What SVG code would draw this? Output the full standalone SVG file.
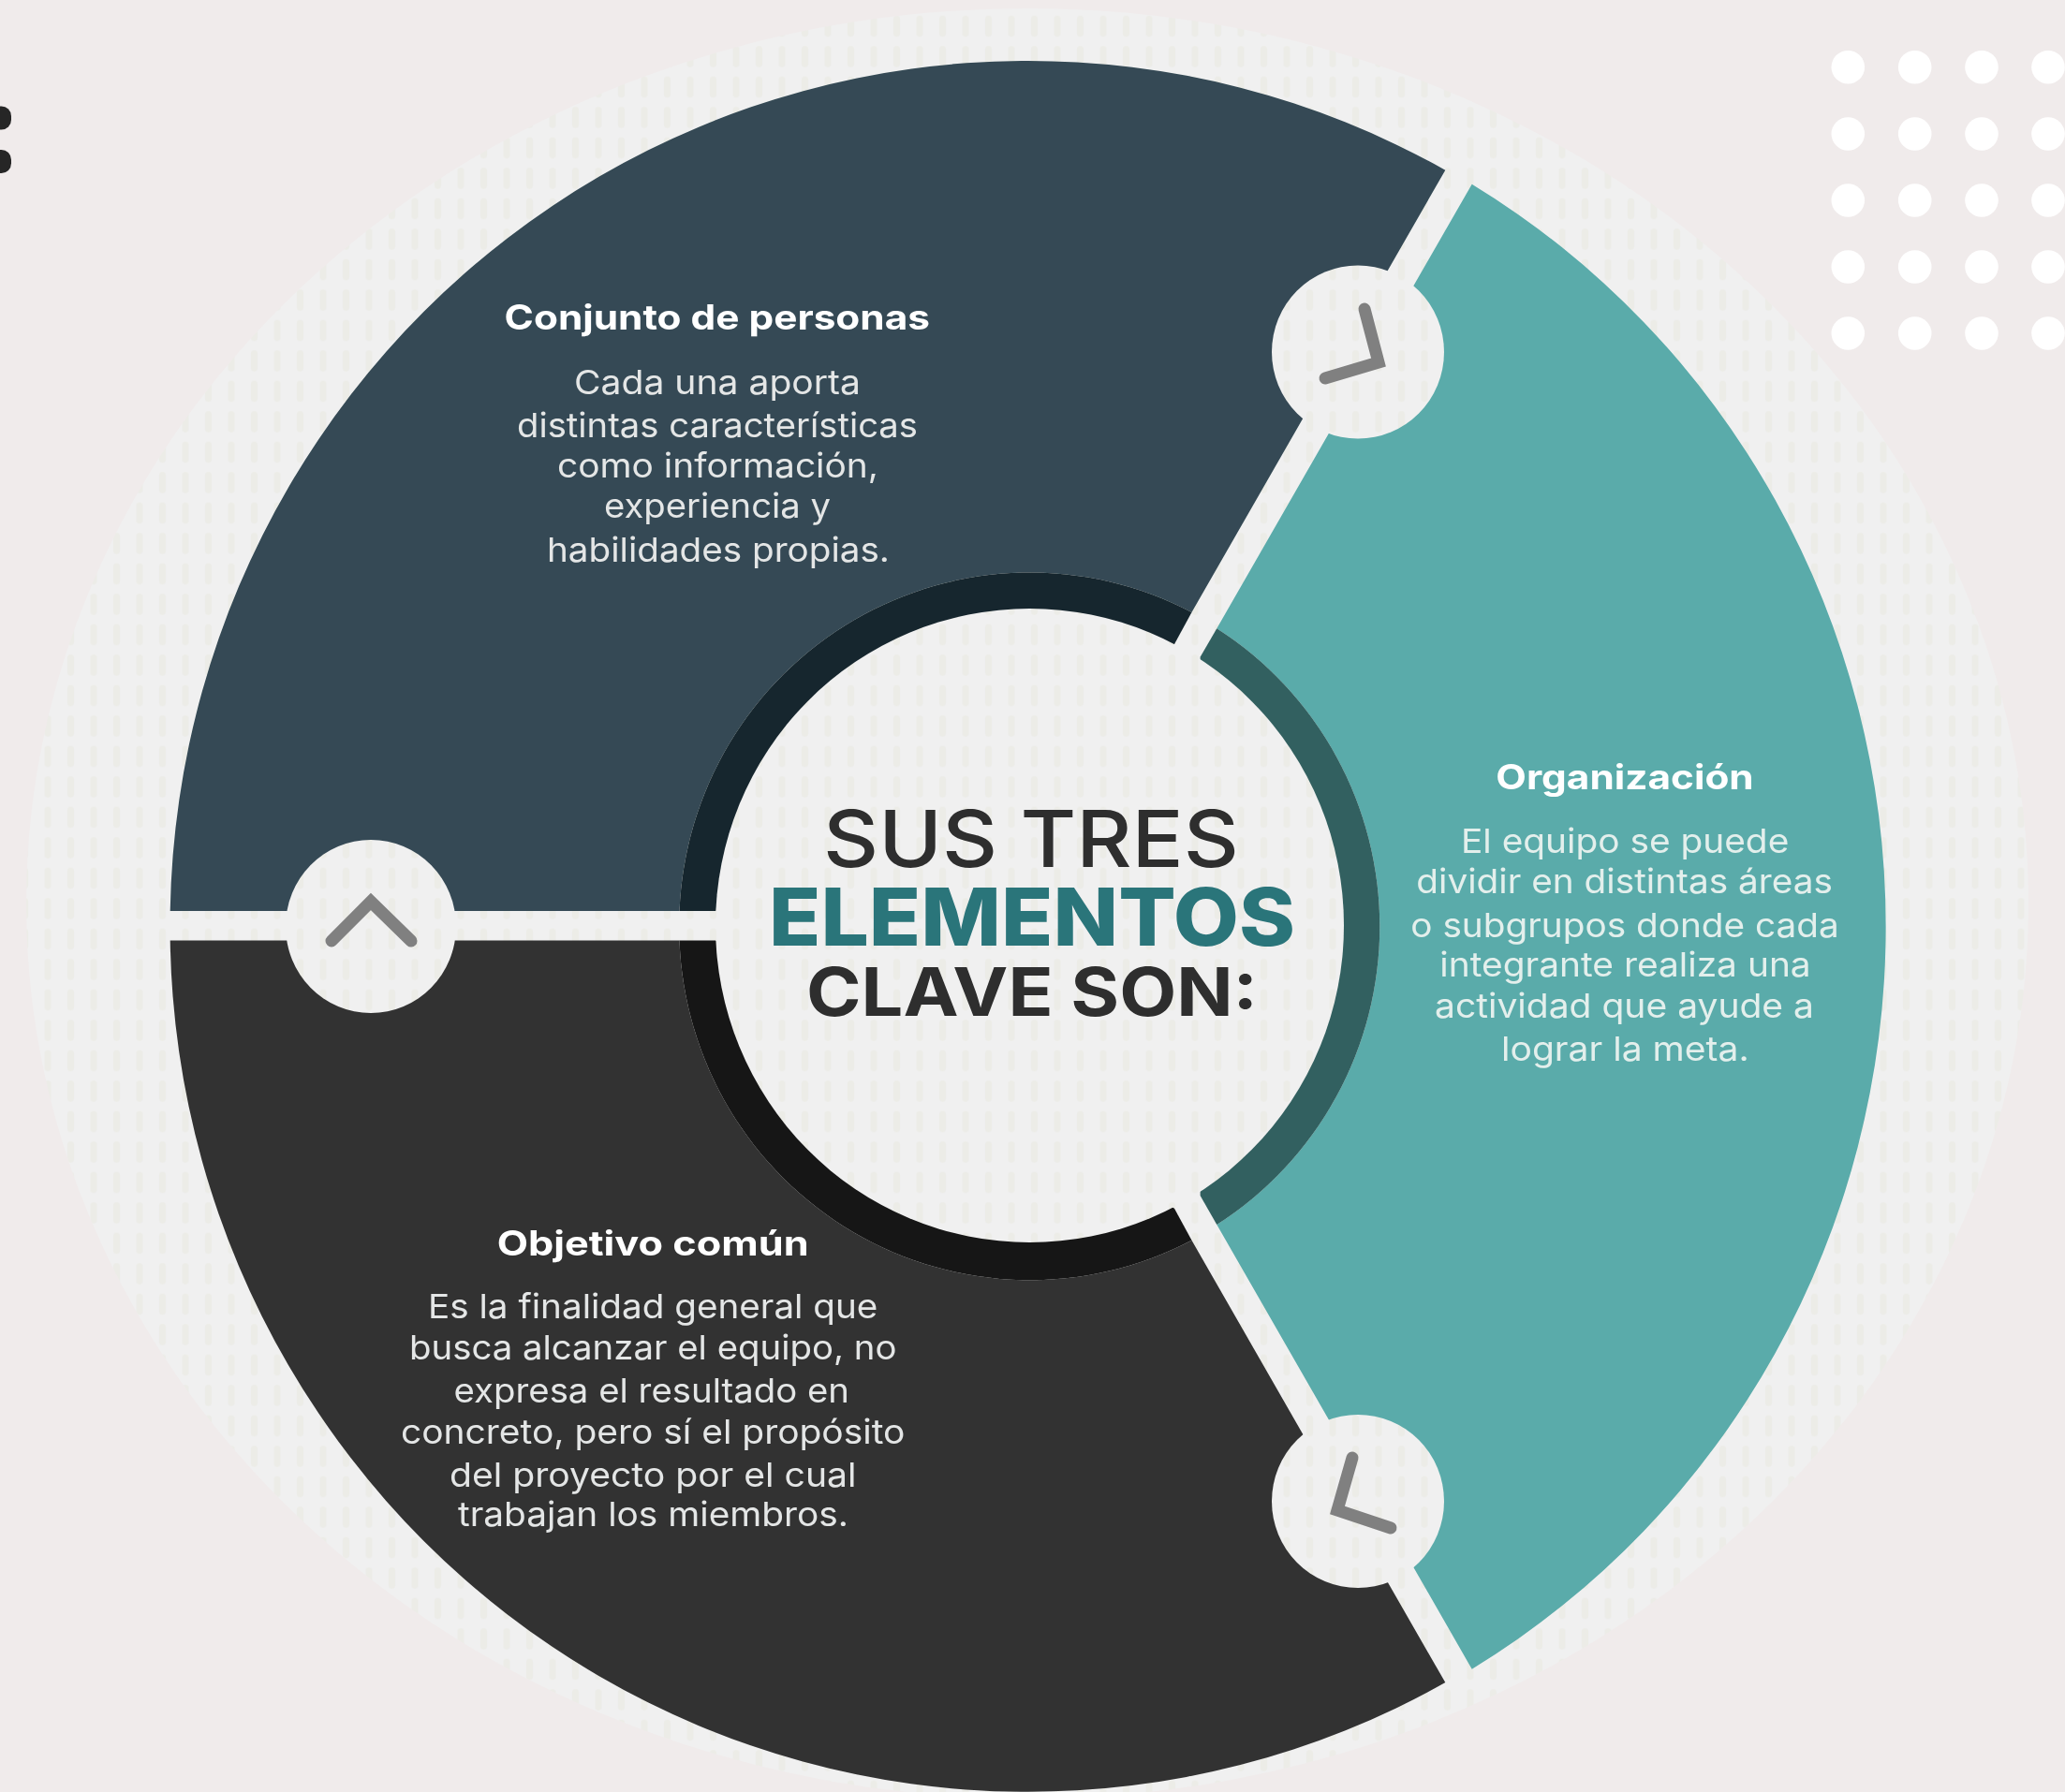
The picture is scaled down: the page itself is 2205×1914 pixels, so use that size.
<svg xmlns="http://www.w3.org/2000/svg" width="2205" height="1914" viewBox="0 0 2205 1914">
<style>
text{font-family:"Inter","Liberation Sans",sans-serif}
.h{font-size:37px;font-weight:700;fill:#fff}
.b{font-size:36px;font-weight:400}
.on-dark{fill:#e4e6e6}
.on-teal{fill:#e3efec}
.seg{filter:url(#soft)}
.txt{filter:url(#softer)}
.badge{fill:url(#dash)}
.chev{fill:none;stroke:#808080;stroke-width:13;stroke-linecap:round;stroke-linejoin:miter}
.dot{fill:#fff}
</style>
<defs>
<pattern id="dash" patternUnits="userSpaceOnUse" x="1067.75" y="11.75" width="24.5" height="32.5">
<rect width="24.5" height="32.5" fill="#f0f0f0"/>
<rect x="8.75" y="5" width="7" height="22.5" rx="3.5" fill="#ecece7"/>
</pattern>
<filter id="soft" x="-2%" y="-2%" width="104%" height="104%"><feGaussianBlur stdDeviation="0.7"/></filter>
<filter id="softer" x="-5%" y="-10%" width="110%" height="120%"><feGaussianBlur stdDeviation="0.6"/></filter>
</defs>
<rect id="page" width="2205" height="1914" fill="#f0ebeb"/>
<ellipse id="backdrop" cx="1097" cy="965" rx="1069" ry="956" fill="url(#dash)"/>
<g id="dot-grid">
<circle class="dot" cx="1973.3" cy="71.7" r="17.8"/><circle class="dot" cx="2044.7" cy="71.7" r="17.8"/><circle class="dot" cx="2116" cy="71.7" r="17.8"/><circle class="dot" cx="2187" cy="71.7" r="17.8"/>
<circle class="dot" cx="1973.3" cy="143" r="17.8"/><circle class="dot" cx="2044.7" cy="143" r="17.8"/><circle class="dot" cx="2116" cy="143" r="17.8"/><circle class="dot" cx="2187" cy="143" r="17.8"/>
<circle class="dot" cx="1973.3" cy="214" r="17.8"/><circle class="dot" cx="2044.7" cy="214" r="17.8"/><circle class="dot" cx="2116" cy="214" r="17.8"/><circle class="dot" cx="2187" cy="214" r="17.8"/>
<circle class="dot" cx="1973.3" cy="285" r="17.8"/><circle class="dot" cx="2044.7" cy="285" r="17.8"/><circle class="dot" cx="2116" cy="285" r="17.8"/><circle class="dot" cx="2187" cy="285" r="17.8"/>
<circle class="dot" cx="1973.3" cy="356" r="17.8"/><circle class="dot" cx="2044.7" cy="356" r="17.8"/><circle class="dot" cx="2116" cy="356" r="17.8"/><circle class="dot" cx="2187" cy="356" r="17.8"/>
</g>
<g id="clipped-colon" fill="#262626">
<rect x="-20" y="113.5" width="32" height="25" rx="10.5"/><rect x="-20" y="160" width="32" height="25" rx="10.5"/>
</g>

<g id="node-conjunto">
<path class="seg" fill="#344a54" d="M181.7,973 A916,924 0 0 1 1543.3,181.7 L1272.5,654 A374.5,377 0 0 0 725.5,973 Z"/>
<path class="seg" fill="#18272e" d="M725.5,973 A374.5,377 0 0 1 1272.5,654 L1254,688 L764,973 Z"/>
<g class="txt">
<text class="h" x="538.6" y="352" textLength="454.4" lengthAdjust="spacingAndGlyphs">Conjunto de personas</text>
<text class="b on-dark" x="613" y="420.8" textLength="306" lengthAdjust="spacingAndGlyphs">Cada una aporta</text>
<text class="b on-dark" x="552" y="467.2" textLength="428" lengthAdjust="spacingAndGlyphs">distintas características</text>
<text class="b on-dark" x="595" y="509.5" textLength="343" lengthAdjust="spacingAndGlyphs">como información,</text>
<text class="b on-dark" x="645" y="553.2" textLength="242" lengthAdjust="spacingAndGlyphs">experiencia y</text>
<text class="b on-dark" x="584" y="599.5" textLength="366" lengthAdjust="spacingAndGlyphs">habilidades propias.</text>
</g>
</g>

<g id="node-organizacion">
<path class="seg" fill="#5aabaa" d="M1571.7,196.7 A908,924 0 0 1 1571.7,1782.7 L1299.3,1308 A374.5,377 0 0 0 1299.3,671.2 Z"/>
<path class="seg" fill="#306060" d="M1299.3,671.2 A374.5,377 0 0 1 1299.3,1308 L1281.6,1277 L1281.6,701.8 Z"/>
<g class="txt">
<text class="h" x="1597.3" y="842.7" textLength="275.4" lengthAdjust="spacingAndGlyphs">Organización</text>
<text class="b on-teal" x="1560" y="910.8" textLength="350.3" lengthAdjust="spacingAndGlyphs">El equipo se puede</text>
<text class="b on-teal" x="1512.3" y="954.2" textLength="444.7" lengthAdjust="spacingAndGlyphs">dividir en distintas áreas</text>
<text class="b on-teal" x="1506.3" y="1000.5" textLength="457.4" lengthAdjust="spacingAndGlyphs">o subgrupos donde cada</text>
<text class="b on-teal" x="1537.3" y="1043.2" textLength="396.4" lengthAdjust="spacingAndGlyphs">integrante realiza una</text>
<text class="b on-teal" x="1532" y="1086.5" textLength="405" lengthAdjust="spacingAndGlyphs">actividad que ayude a</text>
<text class="b on-teal" x="1603" y="1133.2" textLength="264.7" lengthAdjust="spacingAndGlyphs">lograr la meta.</text>
</g>
</g>

<g id="node-objetivo">
<path class="seg" fill="#333333" d="M181.7,1004.5 A916,924 0 0 0 1543.3,1797.1 L1272.5,1324.8 A374.5,377 0 0 1 725.5,1004.5 Z"/>
<path class="seg" fill="#191919" d="M725.5,1004.5 A374.5,377 0 0 0 1272.5,1324.8 L1254,1290.8 L764,1004.5 Z"/>
<g class="txt">
<text class="h" x="530.7" y="1340.7" textLength="332.9" lengthAdjust="spacingAndGlyphs">Objetivo común</text>
<text class="b on-dark" x="457" y="1408.2" textLength="480.4" lengthAdjust="spacingAndGlyphs">Es la finalidad general que</text>
<text class="b on-dark" x="437" y="1451.5" textLength="520.4" lengthAdjust="spacingAndGlyphs">busca alcanzar el equipo, no</text>
<text class="b on-dark" x="484.6" y="1498.2" textLength="422.4" lengthAdjust="spacingAndGlyphs">expresa el resultado en</text>
<text class="b on-dark" x="428" y="1541.5" textLength="538.4" lengthAdjust="spacingAndGlyphs">concreto, pero sí el propósito</text>
<text class="b on-dark" x="480" y="1587.5" textLength="434.5" lengthAdjust="spacingAndGlyphs">del proyecto por el cual</text>
<text class="b on-dark" x="489" y="1629.8" textLength="417" lengthAdjust="spacingAndGlyphs">trabajan los miembros.</text>
</g>
</g>

<g id="node-centro">
<ellipse class="badge" cx="1099.5" cy="988.5" rx="335.5" ry="338.5"/>
<g class="txt">
<text x="879" y="925.7" font-size="84" font-weight="550" fill="#2d2d2d" textLength="444" lengthAdjust="spacingAndGlyphs">SUS TRES</text>
<text x="821" y="1009.6" font-size="85" font-weight="800" fill="#2b747a" textLength="562" lengthAdjust="spacingAndGlyphs">ELEMENTOS</text>
<text x="861" y="1084.7" font-size="72" font-weight="650" fill="#2d2d2d" textLength="482" lengthAdjust="spacingAndGlyphs">CLAVE SON:</text>
</g>
</g>

<g id="connectors">
<ellipse class="badge" cx="396" cy="989.5" rx="91" ry="92.5"/>
<polyline class="chev" points="354,1005 396,963 439,1005"/>
<ellipse class="badge" cx="1450" cy="376" rx="92" ry="92.5"/>
<polyline class="chev" points="1457,330 1472,387 1415,404"/>
<ellipse class="badge" cx="1450" cy="1603.5" rx="92" ry="92.5"/>
<polyline class="chev" points="1444,1557 1428,1613 1485,1632"/>
</g>
</svg>
